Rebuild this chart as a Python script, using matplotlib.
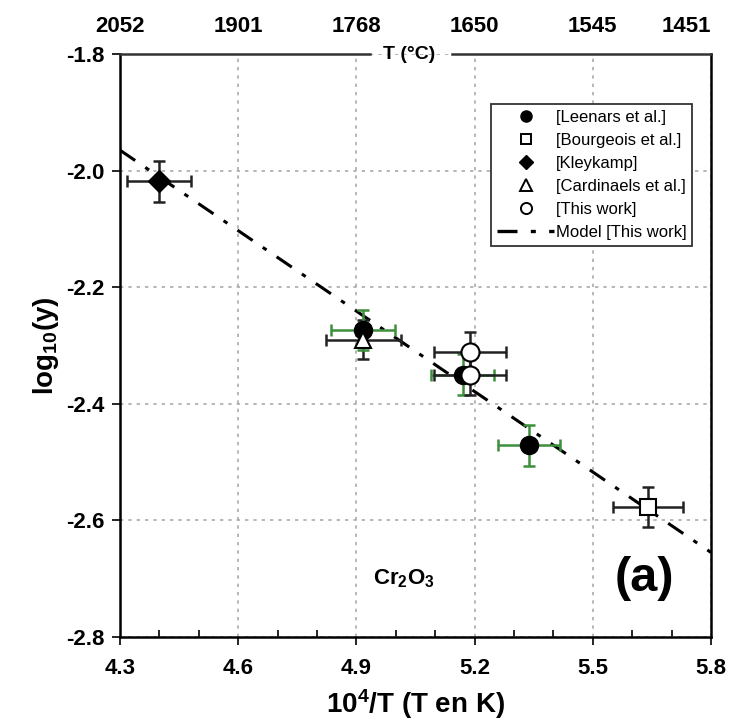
import matplotlib.pyplot as plt
from matplotlib.lines import Line2D

plt.rcParams['font.family'] = ['Liberation Sans', 'DejaVu Sans']
plt.rcParams['mathtext.fontset'] = 'custom'
plt.rcParams['mathtext.rm'] = 'Liberation Sans:bold'
plt.rcParams['mathtext.it'] = 'Liberation Sans:bold:italic'
plt.rcParams['mathtext.bf'] = 'Liberation Sans:bold'

# log10(y) vs 10^4/T for Cr2O3
leenars_x = [4.917, 5.170, 5.338]
leenars_y = [-2.273, -2.350, -2.471]
leenars_xerr = [0.082, 0.080, 0.078]
leenars_yerr = [0.034, 0.035, 0.035]

bourgeois_x = [5.640]
bourgeois_y = [-2.577]
bourgeois_xerr = [0.090]
bourgeois_yerr = [0.035]

kleykamp_x = [4.399]
kleykamp_y = [-2.018]
kleykamp_xerr = [0.080]
kleykamp_yerr = [0.035]

cardinaels_x = [4.917]
cardinaels_y = [-2.290]
cardinaels_xerr = [0.095]
cardinaels_yerr = [0.034]

thiswork_x = [5.188, 5.188]
thiswork_y = [-2.311, -2.350]
thiswork_xerr = [0.092, 0.092]
thiswork_yerr = [0.035, 0.035]

model_x = [4.3, 5.8]
model_y = [-1.965, -2.655]

temp_c = [2052, 1901, 1768, 1650, 1545, 1451]

green = '#3c8f3c'
dashdot = (0, (6, 4, 1.5, 4))

fig = plt.figure(figsize=(7.3, 7.25), dpi=100)
ax = fig.add_axes([0.1644, 0.1214, 0.8096, 0.8041])

ax.plot(model_x, model_y, color='black', lw=2.2, ls=dashdot, zorder=2)

eb = dict(fmt='none', capsize=4, elinewidth=1.8, capthick=1.8, zorder=3)
ax.errorbar(cardinaels_x, cardinaels_y, xerr=cardinaels_xerr, yerr=cardinaels_yerr, ecolor='#222222', **eb)
ax.errorbar(leenars_x, leenars_y, xerr=leenars_xerr, yerr=leenars_yerr, ecolor=green, **eb)
ax.errorbar(thiswork_x, thiswork_y, xerr=thiswork_xerr, yerr=thiswork_yerr, ecolor='#222222', **eb)
ax.errorbar(kleykamp_x, kleykamp_y, xerr=kleykamp_xerr, yerr=kleykamp_yerr, ecolor='#222222', **eb)
ax.errorbar(bourgeois_x, bourgeois_y, xerr=bourgeois_xerr, yerr=bourgeois_yerr, ecolor='#222222', **eb)

ax.plot(leenars_x, leenars_y, 'o', ms=13, mfc='black', mec='black', zorder=4)
ax.plot(cardinaels_x, cardinaels_y, '^', ms=12, mfc='white', mec='black', mew=1.5, zorder=5)
ax.plot(thiswork_x, thiswork_y, 'o', ms=13, mfc='white', mec='black', mew=1.5, zorder=5)
ax.plot(kleykamp_x, kleykamp_y, 'D', ms=11, mfc='black', mec='black', zorder=5)
ax.plot(bourgeois_x, bourgeois_y, 's', ms=12, mfc='white', mec='black', mew=1.5, zorder=5)

ax.set_xlim(4.3, 5.8)
ax.set_ylim(-2.8, -1.8)
ax.set_xticks([4.3, 4.6, 4.9, 5.2, 5.5, 5.8])
ax.set_xticks([4.4, 4.5, 4.7, 4.8, 5.0, 5.1, 5.3, 5.4, 5.6, 5.7], minor=True)
ax.set_yticks([-2.8, -2.6, -2.4, -2.2, -2.0, -1.8])
ax.set_xticklabels(['4.3', '4.6', '4.9', '5.2', '5.5', '5.8'])
ax.set_yticklabels(['-2.8', '-2.6', '-2.4', '-2.2', '-2.0', '-1.8'])
ax.tick_params(axis='x', which='major', direction='out', length=6, width=1.2, pad=9,
               labelsize=16)
ax.tick_params(axis='x', which='minor', direction='in', length=5, width=1.2)
ax.tick_params(axis='y', direction='out', length=6, width=1.2, pad=5, labelsize=16)
for lab in ax.get_xticklabels() + ax.get_yticklabels():
    lab.set_fontweight('bold')

ax.grid(True, which='major', color='#aaaaaa', ls=(0, (2, 3)), lw=1.2)
ax.set_axisbelow(True)

for side in ['left', 'bottom', 'right']:
    ax.spines[side].set_linewidth(1.8)
ax.spines['top'].set_visible(False)
# top border with a gap for the T (°C) label
ax.plot([4.3, 4.935], [-1.8, -1.8], color='#333333', lw=1.8, clip_on=False, zorder=6)
ax.plot([5.143, 5.8], [-1.8, -1.8], color='#333333', lw=1.8, clip_on=False, zorder=6)
ax.text(5.035, -1.8, 'T (°C)', ha='center', va='center', fontsize=14, fontweight='bold')

# Celsius scale along the top
for i, tc in enumerate(temp_c):
    xpos = 1e4 / (tc + 273.15)
    ha = 'right' if i == len(temp_c) - 1 else 'center'
    ax.text(min(xpos, 5.8), -1.752, str(tc), ha=ha, va='center', fontsize=16,
            fontweight='bold')

ax.set_xlabel('10$^4$/T (T en K)', fontsize=20, fontweight='bold', labelpad=6)
ax.set_ylabel('log$_{10}$(y)', fontsize=20, fontweight='bold', labelpad=4)

ax.text(5.02, -2.70, 'Cr$_2$O$_3$', ha='center', va='center', fontsize=16, fontweight='bold')
ax.text(5.63, -2.70, '(a)', ha='center', va='center', fontsize=35, fontweight='bold')

handles = [
    Line2D([], [], ls='none', marker='o', ms=8, mfc='black', mec='black'),
    Line2D([], [], ls='none', marker='s', ms=7, mfc='white', mec='black', mew=1.4),
    Line2D([], [], ls='none', marker='D', ms=7, mfc='black', mec='black'),
    Line2D([], [], ls='none', marker='^', ms=8, mfc='white', mec='black', mew=1.4),
    Line2D([], [], ls='none', marker='o', ms=8, mfc='white', mec='black', mew=1.4),
    Line2D([], [], color='black', lw=2.4, ls=dashdot),
]
labels = ['[Leenars et al.]', '[Bourgeois et al.]', '[Kleykamp]',
          '[Cardinaels et al.]', '[This work]', 'Model [This work]']
leg = ax.legend(handles, labels, loc='upper right', bbox_to_anchor=(0.968, 0.914),
                fontsize=12, frameon=True, fancybox=False, edgecolor='#333333',
                framealpha=1, borderpad=0.35, labelspacing=0.48, handlelength=3.4,
                handletextpad=0.1, borderaxespad=0)
leg.get_frame().set_linewidth(1.3)

fig.savefig('out.png', dpi=100)
